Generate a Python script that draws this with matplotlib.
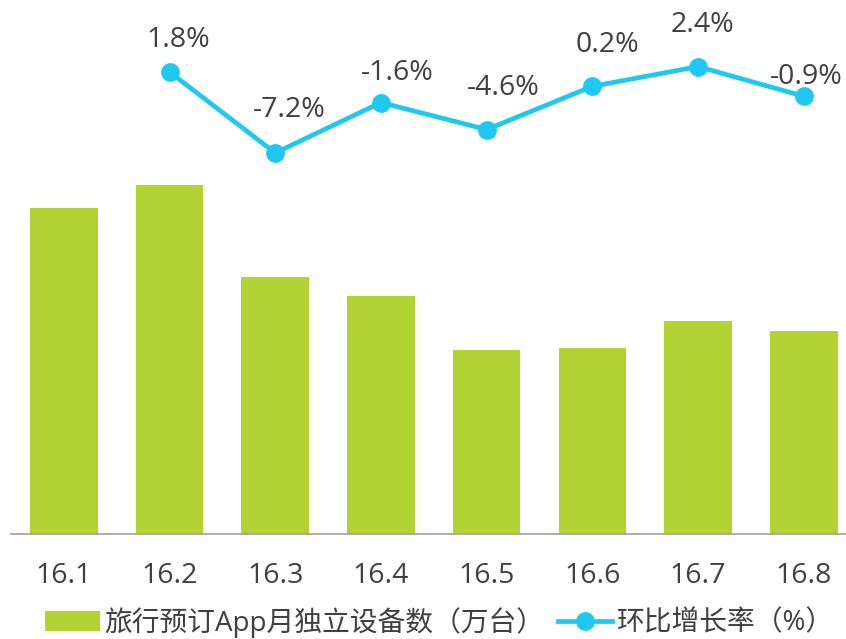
import matplotlib
matplotlib.use("Agg")
import matplotlib.pyplot as plt
from matplotlib.lines import Line2D
from matplotlib.patches import Patch

plt.rcParams['font.family'] = ['Open Sans', 'Noto Sans CJK SC', 'DejaVu Sans']

months = ["16.1", "16.2", "16.3", "16.4", "16.5", "16.6", "16.7", "16.8"]
devices = [12550, 12780, 11860, 11670, 11130, 11150, 11420, 11320]
growth = [None, 1.8, -7.2, -1.6, -4.6, 0.2, 2.4, -0.9]
growth_labels = ["", "1.8%", "-7.2%", "-1.6%", "-4.6%", "0.2%", "2.4%", "-0.9%"]

bar_name = "旅行预订App月独立设备数（万台）"
line_name = "环比增长率（%）"

green = "#B3D335"
cyan = "#1FC8F0"
text_c = "#404040"

# label offsets (points) relative to each point
label_offsets = [(0, 0), (6, 23), (10, 31), (12, 21), (12, 30), (11, 30), (3, 30), (2, 14)]

W, H = 846, 639
fig = plt.figure(figsize=(W / 100, H / 100), dpi=100)
ax = fig.add_axes([11 / W, (H - 534) / H, 835 / W, 534 / H])

x = list(range(len(months)))
ax.bar(x, devices, width=0.64, color=green, zorder=2)
ax.set_xlim(-0.5, 7.4)
ax.set_ylim(9290, 14630)
ax.set_yticks([])
for s in ["top", "right", "left"]:
    ax.spines[s].set_visible(False)
ax.spines["bottom"].set_color("#A0A0A0")
ax.spines["bottom"].set_linewidth(1.2)
ax.set_xticks(x)
ax.set_xticklabels(months, fontsize=20.5, color=text_c)
ax.tick_params(axis="x", length=0, pad=20)

ax2 = ax.twinx()
ax2.set_ylim(-49.56, 9.8)
ax2.set_yticks([])
for s in ax2.spines.values():
    s.set_visible(False)
gx = [i for i, g in zip(x, growth) if g is not None]
gy = [g for g in growth if g is not None]
ax2.plot(gx, gy, color=cyan, lw=3.4, marker="o", ms=12.5, zorder=3)
for i, g, lab, off in zip(x, growth, growth_labels, label_offsets):
    if g is None:
        continue
    ax2.annotate(lab, (i, g), xytext=off, textcoords="offset points",
                 ha="center", va="center", fontsize=20.5, color=text_c)

handles = [Patch(facecolor=green, edgecolor="none"),
           Line2D([0], [0], color=cyan, lw=3.4, marker="o", ms=12.5)]
fig.legend(handles, [bar_name, line_name], loc="lower left",
           bbox_to_anchor=(44 / W, 0 / H), ncol=2, frameon=False,
           fontsize=20, labelcolor=text_c, handlelength=1.95,
           handletextpad=0.15, columnspacing=0.5, borderpad=0,
           borderaxespad=0.05)

fig.savefig("out.png", dpi=100)
